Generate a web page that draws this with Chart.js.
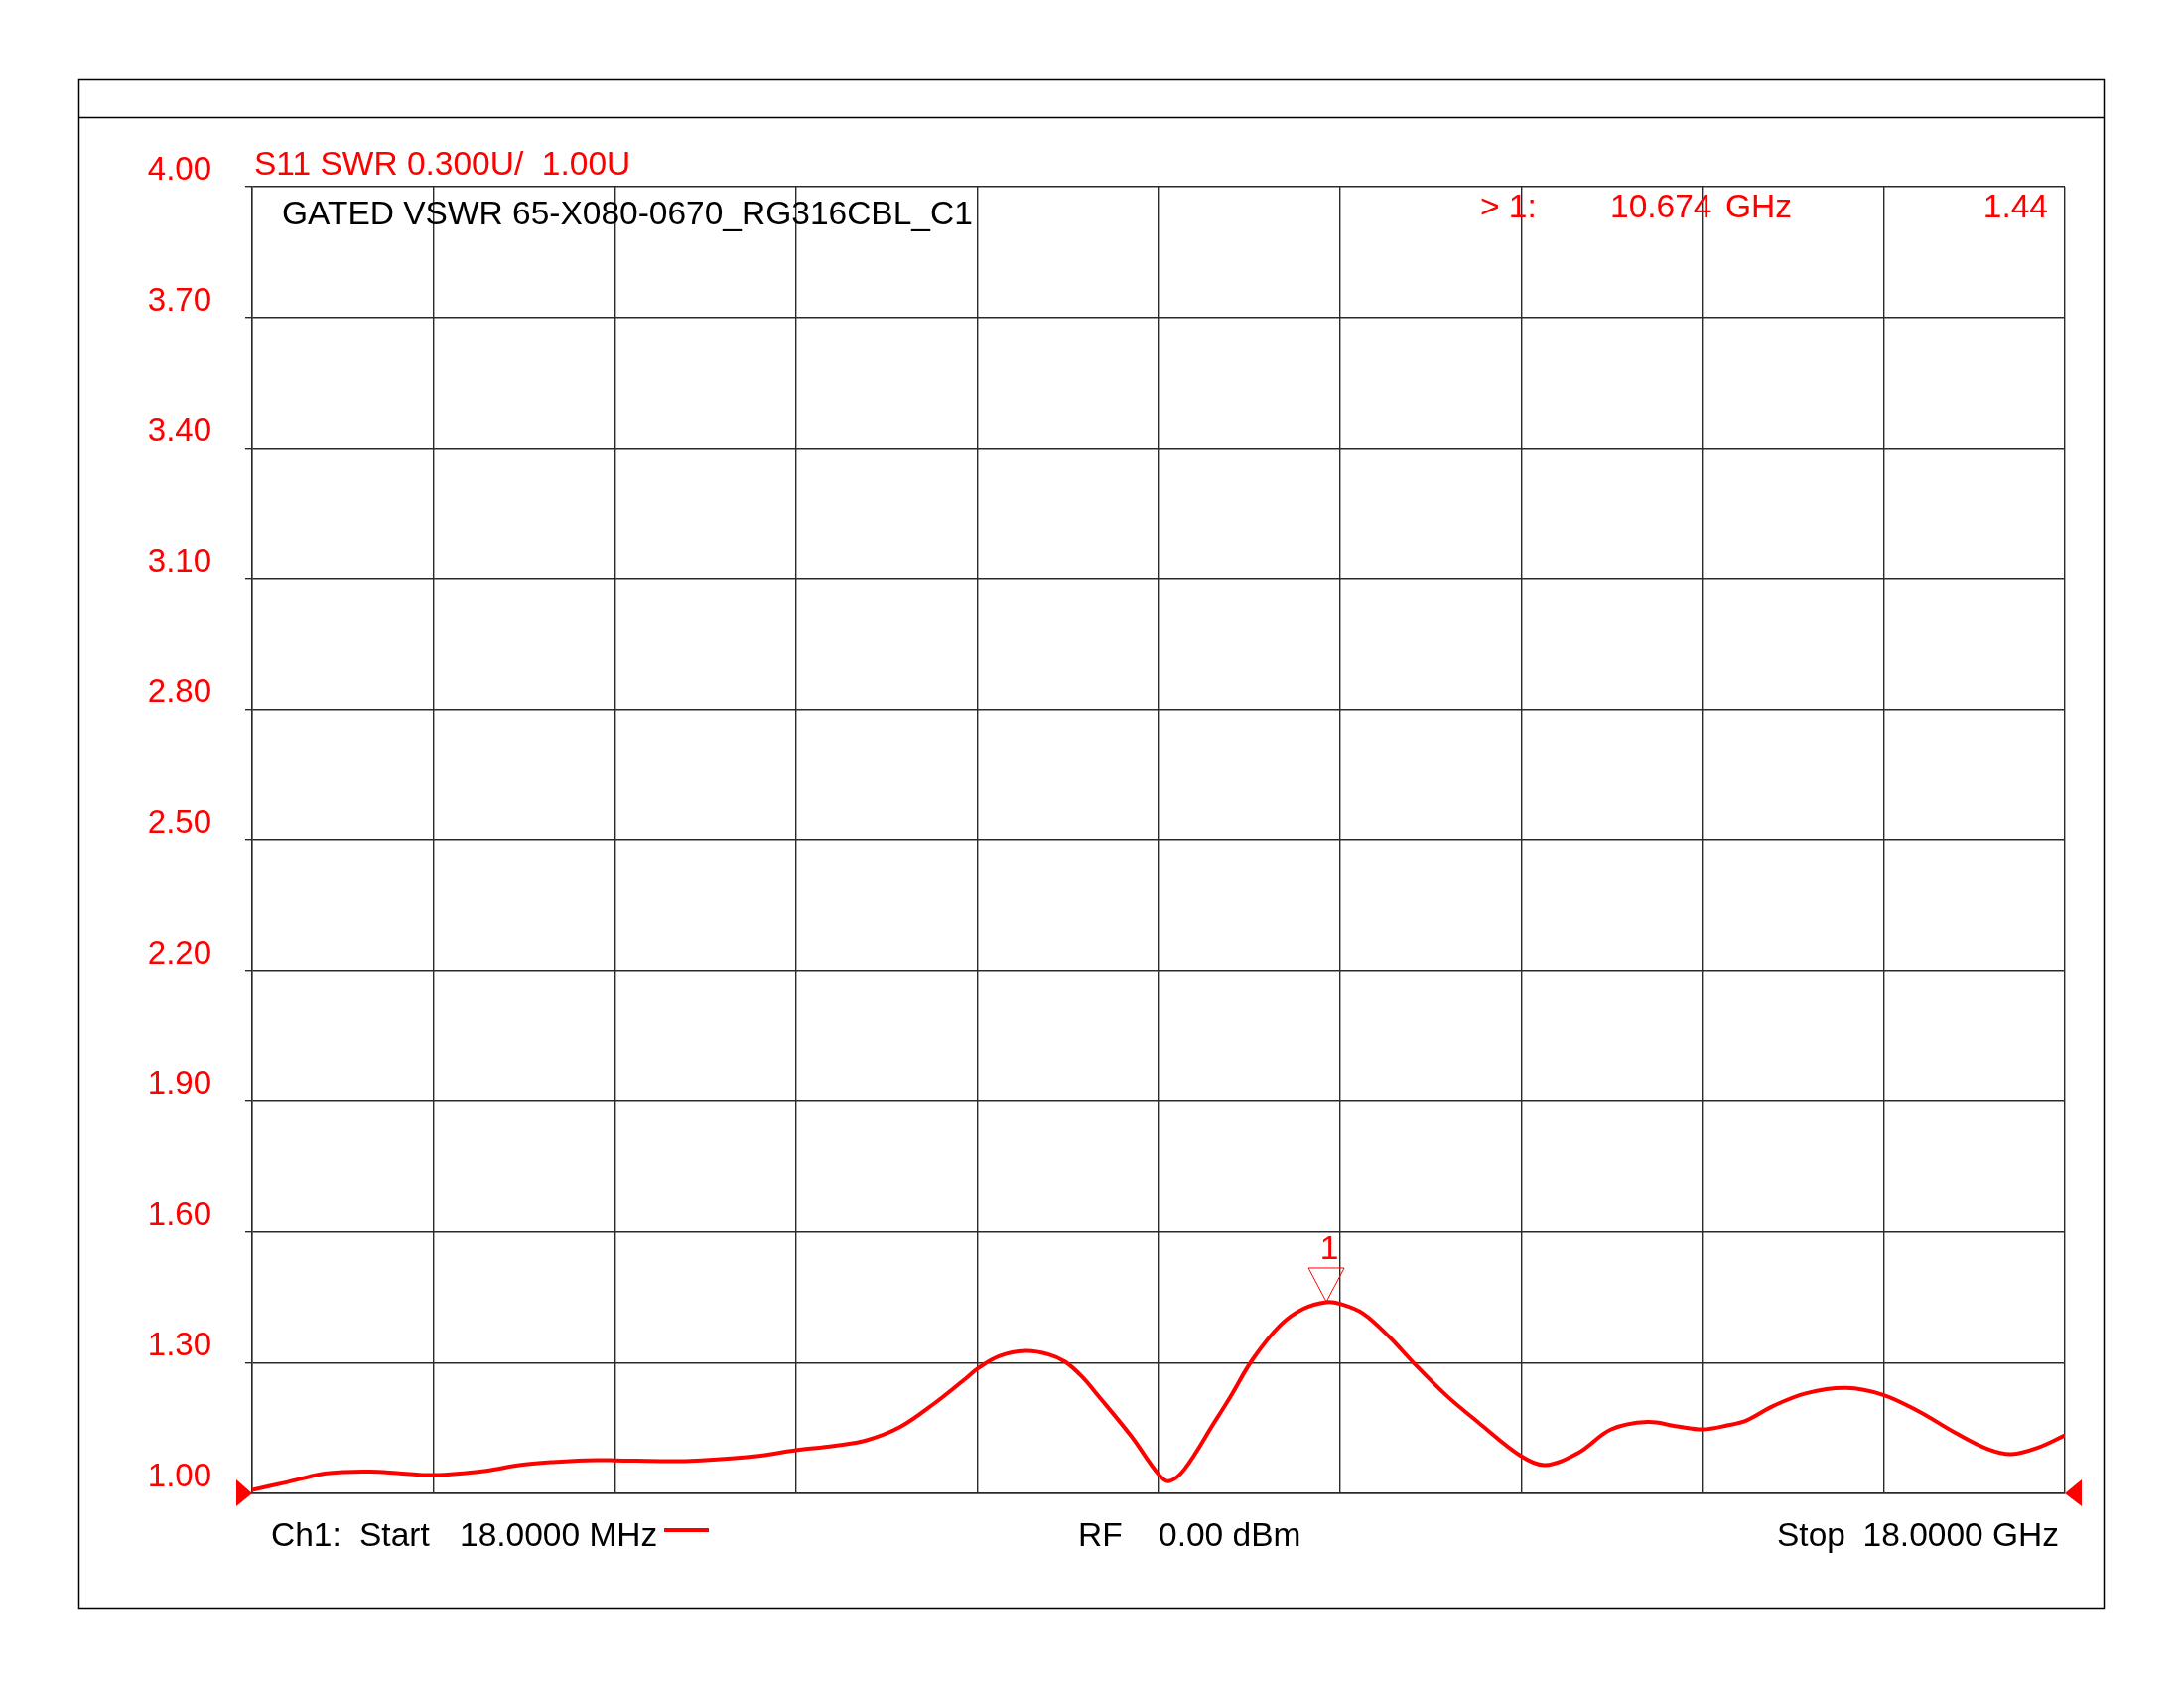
<!DOCTYPE html>
<html>
<head>
<meta charset="utf-8">
<title>GATED VSWR 65-X080-0670_RG316CBL_C1</title>
<script src="https://cdn.jsdelivr.net/npm/chart.js@4.4.0/dist/chart.umd.min.js"></script>
<style>
  html, body { margin: 0; padding: 0; background: #fff; }
  #wrap { width: 2200px; height: 1700px; position: relative; }
</style>
</head>
<body>
<div id="wrap"><canvas id="vswr"></canvas></div>
<script>
// sweep + scale
const START_GHZ = 0.018;
const STOP_GHZ = 18.0;
const X_DIVISIONS = 10;
const Y_TICKS = [1.00, 1.30, 1.60, 1.90, 2.20, 2.50, 2.80, 3.10, 3.40, 3.70, 4.00];

// S11 SWR trace
const FREQ_GHZ = [
  0.018, 0.370, 0.697, 0.928, 1.190, 1.453, 1.824, 2.339, 2.667, 2.996,
  3.324, 3.612, 4.144, 4.473, 4.998, 5.415, 5.786, 6.114, 6.443, 6.771,
  7.098, 7.217, 7.427, 7.689, 7.920, 8.083, 8.250, 8.412, 8.740, 9.009,
  9.111, 9.265, 9.560, 9.725, 9.938, 10.217, 10.447, 10.677, 10.811, 11.038,
  11.300, 11.530, 11.859, 12.187, 12.603, 12.843, 13.172, 13.499, 13.861, 14.156,
  14.406, 14.649, 14.846, 15.109, 15.436, 15.830, 16.198, 16.552, 16.914, 17.242,
  17.472, 17.734, 18.000
];
const SWR = [
  1.008, 1.026, 1.044, 1.049, 1.050, 1.047, 1.042, 1.052, 1.065, 1.072,
  1.076, 1.076, 1.074, 1.076, 1.085, 1.099, 1.109, 1.122, 1.152, 1.204,
  1.264, 1.287, 1.315, 1.327, 1.319, 1.302, 1.268, 1.224, 1.131, 1.044,
  1.028, 1.055, 1.162, 1.223, 1.306, 1.386, 1.424, 1.439, 1.435, 1.413,
  1.359, 1.302, 1.226, 1.162, 1.086, 1.065, 1.093, 1.147, 1.164, 1.154,
  1.147, 1.156, 1.168, 1.201, 1.230, 1.242, 1.226, 1.188, 1.139, 1.101,
  1.090, 1.105, 1.133
];

// marker 1
const MARKER_FREQ = 10.674;
const MARKER_SWR = 1.44;

const RED = '#ff0000';
const GRID = '#2a2a2a';
const FAMILY = '"Liberation Sans", Arial, Helvetica, sans-serif';
const FONT = '33.5px ' + FAMILY;

// frame, annotations, marker - drawn on top of the chart
const analyzerDecor = {
  id: 'analyzerDecor',
  beforeDraw(chart) {
    const ctx = chart.ctx;
    ctx.save();
    ctx.fillStyle = '#fff';
    ctx.fillRect(0, 0, chart.width, chart.height);
    ctx.restore();
  },
  afterDraw(chart) {
    const ctx = chart.ctx;
    const xs = chart.scales.x;
    const ys = chart.scales.y;
    ctx.save();

    // outer frame + header strip
    ctx.strokeStyle = '#000';
    ctx.lineWidth = 1.5;
    ctx.strokeRect(79.5, 80.5, 2040, 1539);
    ctx.beginPath();
    ctx.moveTo(79.5, 118.5);
    ctx.lineTo(2119.5, 118.5);
    ctx.stroke();

    ctx.font = FONT;
    ctx.textBaseline = 'alphabetic';
    ctx.textAlign = 'left';

    ctx.fillStyle = RED;
    ctx.fillText('S11 SWR 0.300U/  1.00U', 256, 176);
    ctx.fillStyle = '#000';
    ctx.fillText('GATED VSWR 65-X080-0670_RG316CBL_C1', 284, 226);

    // marker readout
    ctx.fillStyle = RED;
    ctx.fillText('> 1:', 1491, 219);
    ctx.fillText('10.674', 1622, 219);
    ctx.fillText('GHz', 1738, 219);
    ctx.textAlign = 'right';
    ctx.fillText('1.44', 2063, 219);

    // marker triangle
    const mx = xs.getPixelForValue(MARKER_FREQ);
    const my = ys.getPixelForValue(MARKER_SWR);
    ctx.strokeStyle = RED;
    ctx.lineWidth = 1;
    ctx.beginPath();
    ctx.moveTo(mx - 18, my - 34);
    ctx.lineTo(mx + 18, my - 34);
    ctx.lineTo(mx, my);
    ctx.closePath();
    ctx.stroke();
    ctx.textAlign = 'center';
    ctx.fillText('1', mx + 3, my - 43);

    // start / stop arrows on the reference line
    const by = ys.bottom;
    ctx.beginPath();
    ctx.moveTo(xs.left, by);
    ctx.lineTo(xs.left - 16, by - 14);
    ctx.lineTo(xs.left - 16, by + 13);
    ctx.closePath();
    ctx.fill();
    ctx.beginPath();
    ctx.moveTo(xs.right, by);
    ctx.lineTo(xs.right + 17, by - 14);
    ctx.lineTo(xs.right + 17, by + 13);
    ctx.closePath();
    ctx.fill();

    // footer
    ctx.fillStyle = '#000';
    ctx.textAlign = 'left';
    ctx.fillText('Ch1:', 273, 1557);
    ctx.fillText('Start', 362, 1557);
    ctx.fillText('18.0000 MHz', 463, 1557);
    ctx.fillText('RF', 1086, 1557);
    ctx.fillText('0.00 dBm', 1167, 1557);
    ctx.fillText('Stop', 1790, 1557);
    ctx.textAlign = 'right';
    ctx.fillText('18.0000 GHz', 2074, 1557);

    // trace colour sample
    ctx.strokeStyle = RED;
    ctx.lineWidth = 4;
    ctx.beginPath();
    ctx.moveTo(669, 1541);
    ctx.lineTo(714, 1541);
    ctx.stroke();

    ctx.restore();
  }
};

new Chart(document.getElementById('vswr'), {
  type: 'line',
  data: {
    datasets: [{
      label: 'S11 SWR',
      data: FREQ_GHZ.map((f, i) => ({ x: f, y: SWR[i] })),
      borderColor: RED,
      borderWidth: 4,
      pointRadius: 0,
      fill: false,
      tension: 0.35
    }]
  },
  options: {
    responsive: true,
    maintainAspectRatio: false,
    animation: false,
    events: [],
    layout: { padding: { top: 188, right: 120, left: 0, bottom: 0 } },
    plugins: {
      legend: { display: false },
      tooltip: { enabled: false }
    },
    scales: {
      x: {
        type: 'linear',
        min: START_GHZ,
        max: STOP_GHZ,
        afterBuildTicks: s => {
          const step = (STOP_GHZ - START_GHZ) / X_DIVISIONS;
          s.ticks = Array.from({ length: X_DIVISIONS + 1 }, (_, i) => ({ value: START_GHZ + i * step }));
        },
        afterFit: s => { s.height = 196; },
        ticks: { display: false },
        grid: { color: GRID, lineWidth: 1.4, drawTicks: false },
        border: { color: GRID, width: 1.4 }
      },
      y: {
        type: 'linear',
        min: 1,
        max: 4,
        afterBuildTicks: s => { s.ticks = Y_TICKS.map(v => ({ value: v })); },
        afterFit: s => { s.width = 254; },
        ticks: {
          color: RED,
          font: { family: FAMILY, size: 33 },
          padding: 34,
          labelOffset: -16,
          callback: v => Number(v).toFixed(2)
        },
        grid: { color: GRID, lineWidth: 1.4, tickLength: 7 },
        border: { color: GRID, width: 1.4 }
      }
    }
  },
  plugins: [analyzerDecor]
});
</script>
</body>
</html>
